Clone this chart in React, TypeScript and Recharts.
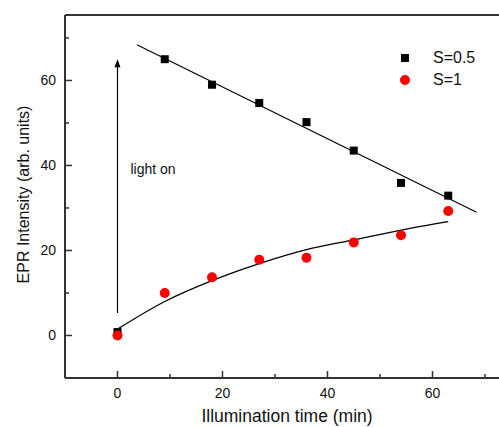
import {
  ComposedChart,
  Legend,
  Line,
  ReferenceDot,
  ReferenceLine,
  Scatter,
  XAxis,
  YAxis,
} from "recharts";

// Illumination-time series.
const times = [0, 9, 18, 27, 36, 45, 54, 63];
const intensityS05 = [0.8, 65.0, 59.0, 54.7, 50.2, 43.5, 35.9, 32.9];
const intensityS1 = [0, 10.0, 13.7, 17.8, 18.3, 21.9, 23.6, 29.3];

// Fit curves as drawn in the original (linear for S=0.5, saturating for S=1).
const fitS05X = [3.7, 68.4];
const fitS05Y = [68.4, 29.0];
const fitS1Y = [1.5, 8.0, 12.9, 16.9, 20.2, 22.5, 24.8, 26.8];

// "light on" arrow, from / to in data units, at t = 0.
const arrowFrom = { x: 0, y: 5.3 };
const arrowTo = { x: 0, y: 65 };
const arrowLabel = { x: 0, y: 38.1, text: "light on" };

const xTicks = [0, 10, 20, 30, 40, 50, 60, 70];
const yTicks = [0, 10, 20, 30, 40, 50, 60, 70];

const AXIS = "#333";
const INK = "#111";
const FONT = "'Liberation Sans', Arial, Helvetica, sans-serif";

const s05Points = times.map((x, i) => ({ x, y: intensityS05[i] }));
const s1Points = times.map((x, i) => ({ x, y: intensityS1[i] }));
const fitS05 = fitS05X.map((x, i) => ({ x, y: fitS05Y[i] }));
const fitS1 = times.map((x, i) => ({ x, y: fitS1Y[i] }));

const isMajor = (v: number) => v % 20 === 0;

function BottomTick({ x, y, payload }: any) {
  const major = isMajor(payload.value);
  return (
    <g>
      <line x1={x} x2={x} y1={y} y2={y - (major ? 7 : 4)} stroke={AXIS} strokeWidth={1.5} />
      {major && (
        <text x={x} y={y + 20} textAnchor="middle" fontSize={14} fill={INK} fontFamily={FONT}>
          {payload.value}
        </text>
      )}
    </g>
  );
}

function TopTick({ x, y, payload }: any) {
  const major = isMajor(payload.value);
  return <line x1={x} x2={x} y1={y} y2={y + (major ? 7 : 4)} stroke={AXIS} strokeWidth={1.5} />;
}

function LeftTick({ x, y, payload }: any) {
  const major = isMajor(payload.value);
  return (
    <g>
      <line x1={x} x2={x + (major ? 7 : 4)} y1={y} y2={y} stroke={AXIS} strokeWidth={1.5} />
      {major && (
        <text x={x - 9} y={y + 5} textAnchor="end" fontSize={14} fill={INK} fontFamily={FONT}>
          {payload.value}
        </text>
      )}
    </g>
  );
}

function SquareDot({ cx, cy }: any) {
  return <rect x={cx - 4} y={cy - 4} width={8} height={8} fill="#000" />;
}

function RoundDot({ cx, cy }: any) {
  return <circle cx={cx} cy={cy} r={5} fill="#ff0000" />;
}

function Arrow({ x1, y1, x2, y2 }: any) {
  const tipY = Math.min(y1, y2);
  const baseY = Math.max(y1, y2);
  return (
    <g>
      <line x1={x1} x2={x2} y1={baseY} y2={tipY + 6} stroke="#000" strokeWidth={1.2} />
      <polygon
        points={`${x1},${tipY} ${x1 - 3},${tipY + 8} ${x1 + 3},${tipY + 8}`}
        fill="#000"
      />
    </g>
  );
}

function ChartLegend() {
  const rows = [
    { label: "S=0.5", icon: <rect x={3} y={3} width={8} height={8} fill="#000" /> },
    { label: "S=1", icon: <circle cx={7} cy={7} r={5} fill="#ff0000" /> },
  ];
  return (
    <div style={{ fontFamily: FONT, fontSize: 16, color: INK }}>
      {rows.map((r) => (
        <div key={r.label} style={{ display: "flex", alignItems: "center", height: 22 }}>
          <svg width={14} height={14}>{r.icon}</svg>
          <span style={{ marginLeft: 21 }}>{r.label}</span>
        </div>
      ))}
    </div>
  );
}

export default function App() {
  return (
    <div style={{ position: "absolute", left: 0, top: 0, width: 499, height: 427, background: "#fff" }}>
      <ComposedChart
        width={499}
        height={427}
        margin={{ top: 0, right: 0, bottom: 0, left: 0 }}
        style={{ fontFamily: FONT }}
      >
        <XAxis
          dataKey="x"
          type="number"
          domain={[-10, 72.67]}
          ticks={xTicks}
          allowDataOverflow
          height={49}
          tickSize={0}
          tickMargin={0}
          tickLine={false}
          axisLine={{ stroke: AXIS, strokeWidth: 2 }}
          tick={<BottomTick />}
          interval={0}
          label={{
            content: ({ viewBox }: any) => (
              <text
                x={viewBox.x + viewBox.width / 2 + 5}
                y={viewBox.y + 44}
                textAnchor="middle"
                fontSize={17.5}
                fill={INK}
                fontFamily={FONT}
              >
                Illumination time (min)
              </text>
            ),
          }}
        />
        <XAxis
          xAxisId="top"
          orientation="top"
          type="number"
          domain={[-10, 72.67]}
          ticks={xTicks}
          allowDataOverflow
          height={15}
          tickSize={0}
          tickMargin={0}
          tickLine={false}
          axisLine={{ stroke: AXIS, strokeWidth: 2 }}
          tick={<TopTick />}
          interval={0}
        />
        <YAxis
          dataKey="y"
          type="number"
          domain={[-10, 75.4]}
          ticks={yTicks}
          allowDataOverflow
          width={65}
          tickSize={0}
          tickMargin={0}
          tickLine={false}
          axisLine={{ stroke: AXIS, strokeWidth: 2 }}
          tick={<LeftTick />}
          interval={0}
          label={{
            content: ({ viewBox }: any) => {
              const cx = 23;
              const cy = viewBox.y + viewBox.height / 2 - 2;
              return (
                <text
                  x={cx}
                  y={cy}
                  transform={`rotate(-90 ${cx} ${cy})`}
                  textAnchor="middle"
                  dominantBaseline="central"
                  fontSize={16}
                  fill={INK}
                  fontFamily={FONT}
                >
                  EPR Intensity (arb. units)
                </text>
              );
            },
          }}
        />
        <ReferenceLine segment={[arrowFrom, arrowTo]} shape={<Arrow />} ifOverflow="visible" />
        <ReferenceDot
          x={arrowLabel.x}
          y={arrowLabel.y}
          ifOverflow="visible"
          shape={({ cx, cy }: any) => (
            <text x={cx + 13} y={cy} fontSize={14} fill={INK} fontFamily={FONT}>
              {arrowLabel.text}
            </text>
          )}
        />
        <Line
          data={fitS05}
          dataKey="y"
          type="linear"
          stroke="#000"
          strokeWidth={1.2}
          dot={false}
          activeDot={false}
          isAnimationActive={false}
          legendType="none"
        />
        <Line
          data={fitS1}
          dataKey="y"
          type="monotone"
          stroke="#000"
          strokeWidth={1.2}
          dot={false}
          activeDot={false}
          isAnimationActive={false}
          legendType="none"
        />
        <Scatter data={s05Points} dataKey="y" name="S=0.5" shape={<SquareDot />} isAnimationActive={false} />
        <Scatter data={s1Points} dataKey="y" name="S=1" shape={<RoundDot />} isAnimationActive={false} />
        <Legend
          layout="vertical"
          align="center"
          verticalAlign="middle"
          wrapperStyle={{ position: "absolute", left: 398, top: 47, width: 100 }}
          content={<ChartLegend />}
        />
      </ComposedChart>
    </div>
  );
}
